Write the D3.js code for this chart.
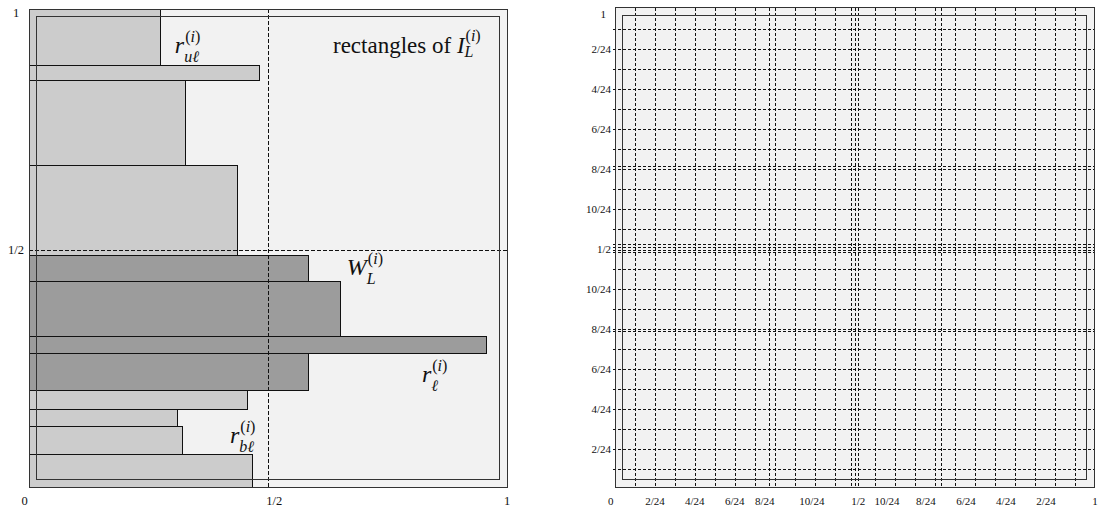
<!DOCTYPE html>
<html>
<head>
<meta charset="utf-8">
<script src="https://cdn.jsdelivr.net/npm/d3@7"></script>
<style>
  body { margin: 0; background: #fff; }
  text { font-family: "Liberation Serif", "Times New Roman", serif; fill: #111; }
</style>
</head>
<body>
<svg id="chart"></svg>
<script>
// ---- left panel: rectangles, listed top to bottom ----
let barTop    = [1.000, 0.881, 0.851, 0.672, 0.485, 0.429, 0.314, 0.280, 0.201, 0.163, 0.126, 0.067];
let barBottom = [0.881, 0.851, 0.672, 0.485, 0.429, 0.314, 0.280, 0.201, 0.163, 0.126, 0.067, 0.000];
let barRight  = [0.276, 0.483, 0.328, 0.437, 0.584, 0.651, 0.958, 0.584, 0.458, 0.310, 0.322, 0.467];
let barGroup  = ["light", "light", "light", "light", "dark", "dark", "dark", "dark", "light", "light", "light", "light"];

let leftXLabels = ["0", "1/2", "1"];
let leftXLabelPos = [-0.009, 0.513, 1.0];
let leftYLabels = ["1", "1/2"];
let leftYLabelPos = [0.992, 0.496];

let eps = 0.016;

// ---- right panel: dashed grid ----
let gridX = [1/24, 2/24, 3/24, 4/24, 5/24, 6/24, 7/24, 0.320, 8/24, 9/24, 10/24, 11/24,
             0.4925, 0.5, 0.5065,
             13/24, 14/24, 15/24, 0.679, 16/24, 17/24, 18/24, 19/24, 20/24, 21/24, 22/24, 23/24];
let gridY = [1/24, 2/24, 3/24, 4/24, 5/24, 6/24, 7/24, 0.328, 8/24, 9/24, 10/24, 11/24,
             0.4925, 0.4975, 0.503, 0.509,
             13/24, 14/24, 15/24, 16/24, 0.673, 17/24, 18/24, 19/24, 20/24, 21/24, 22/24, 23/24];

let rightXLabels = ["0", "2/24", "4/24", "6/24", "8/24", "10/24", "1/2", "10/24", "8/24", "6/24", "4/24", "2/24", "1"];
let rightXLabelPos = [-0.009, 2/24, 4/24, 6/24, 0.3125, 0.411, 0.508, 0.568, 0.649, 0.733, 0.816, 0.900, 1.002];
let rightYLabels = ["1", "2/24", "4/24", "6/24", "8/24", "10/24", "1/2", "10/24", "8/24", "6/24", "4/24", "2/24"];
let rightYLabelPos = [0.99, 22/24, 20/24, 18/24, 16/24, 14/24, 1/2, 10/24, 8/24, 6/24, 4/24, 2/24];

// annotations of the left panel
let annMain = ["r", "W", "r", "r"];
let annSub  = ["u\u2113", "L", "\u2113", "b\u2113"];
let annX    = [0.305, 0.665, 0.822, 0.4205];
let annY    = [0.908, 0.4435, 0.2197, 0.092];

let width = 1101;
let height = 511;

let svg = d3.select("#chart").attr("width", width).attr("height", height);

let xL = d3.scaleLinear().domain([0, 1]).range([29, 507]);
let yL = d3.scaleLinear().domain([0, 1]).range([487, 9]);
let xR = d3.scaleLinear().domain([0, 1]).range([615, 1094]);
let yR = d3.scaleLinear().domain([0, 1]).range([487, 7.5]);

let colors = { light: "#cccccc", dark: "#9c9c9c" };

let drawFrame = (g, x, y) => {
  g.append("rect")
    .attr("x", x(0)).attr("y", y(1))
    .attr("width", x(1) - x(0)).attr("height", y(0) - y(1))
    .attr("fill", "none").attr("stroke", "#333").attr("stroke-width", 1)
    .attr("shape-rendering", "crispEdges");
  g.append("rect")
    .attr("x", x(eps)).attr("y", y(1 - eps))
    .attr("width", x(1 - eps) - x(eps)).attr("height", y(eps) - y(1 - eps))
    .attr("fill", "none").attr("stroke", "#333").attr("stroke-width", 1)
    .attr("shape-rendering", "crispEdges");
};

// ---------- left panel ----------
let left = svg.append("g");

left.append("rect")
  .attr("x", xL(0)).attr("y", yL(1))
  .attr("width", xL(1) - xL(0)).attr("height", yL(0) - yL(1))
  .attr("fill", "#f2f2f2");

left.selectAll("rect.bar")
  .data(barTop)
  .enter()
  .append("rect")
  .attr("class", "bar")
  .attr("x", xL(0))
  .attr("y", (d) => yL(d))
  .attr("width", (d, i) => xL(barRight[i]) - xL(0))
  .attr("height", (d, i) => yL(barBottom[i]) - yL(d))
  .attr("fill", (d, i) => colors[barGroup[i]])
  .attr("stroke", "#111")
  .attr("stroke-width", 1)
  .attr("shape-rendering", "crispEdges");

let leftDash = left.append("g").attr("transform", "translate(0,2)")
  .attr("stroke", "#111").attr("stroke-width", 1).attr("stroke-dasharray", "3.5,2.5")
  .attr("shape-rendering", "crispEdges");
leftDash.append("line")
  .attr("x1", xL(0.5)).attr("x2", xL(0.5)).attr("y1", yL(1) - 2).attr("y2", yL(0) - 2);
leftDash.append("line")
  .attr("x1", xL(0)).attr("x2", xL(1)).attr("y1", yL(0.5)).attr("y2", yL(0.5));

drawFrame(left, xL, yL);

left.selectAll("text.xlab")
  .data(leftXLabels)
  .enter()
  .append("text")
  .attr("class", "xlab")
  .attr("x", (d, i) => xL(leftXLabelPos[i]))
  .attr("y", 505)
  .attr("text-anchor", "middle")
  .style("font-size", "12.5px")
  .text((d) => d);

left.selectAll("text.ylab")
  .data(leftYLabels)
  .enter()
  .append("text")
  .attr("class", "ylab")
  .attr("x", 16)
  .attr("y", (d, i) => yL(leftYLabelPos[i]))
  .attr("dy", "0.35em")
  .attr("text-anchor", "middle")
  .style("font-size", "12.5px")
  .text((d) => d);

// math annotations: main letter with stacked superscript (i) and subscript
let mathLabel = (g, x, y, main, sub, size) => {
  let t = g.append("text").attr("x", x).attr("y", y)
    .style("font-style", "italic").style("font-size", size + "px").text(main);
  let w = t.node().getComputedTextLength();
  let sup = g.append("text").attr("x", x + w + 1).attr("y", y - 11).style("font-size", "16px");
  sup.append("tspan").text("(");
  sup.append("tspan").style("font-style", "italic").text("i");
  sup.append("tspan").text(")");
  g.append("text").attr("x", x + w).attr("y", y + 9)
    .style("font-style", "italic").style("font-size", "16px").text(sub);
};

annMain.forEach((m, i) => {
  mathLabel(left, xL(annX[i]), yL(annY[i]), m, annSub[i], 24);
});

// title "rectangles of I_L^(i)"
let title = left.append("text").attr("x", xL(0.636)).attr("y", yL(0.908)).style("font-size", "23px");
title.append("tspan").text("rectangles of ");
title.append("tspan").style("font-style", "italic").text("I");
let tw = title.node().getComputedTextLength();
let tsup = left.append("text").attr("x", xL(0.636) + tw + 1).attr("y", yL(0.908) - 12).style("font-size", "16px");
tsup.append("tspan").text("(");
tsup.append("tspan").style("font-style", "italic").text("i");
tsup.append("tspan").text(")");
left.append("text").attr("x", xL(0.636) + tw).attr("y", yL(0.908) + 4)
  .style("font-style", "italic").style("font-size", "16px").text("L");

// ---------- right panel ----------
let right = svg.append("g");

right.append("rect")
  .attr("x", xR(0)).attr("y", yR(1))
  .attr("width", xR(1) - xR(0)).attr("height", yR(0) - yR(1))
  .attr("fill", "#f2f2f2");

let grid = right.append("g").attr("transform", "translate(1,2)")
  .attr("stroke", "#111").attr("stroke-width", 1).attr("stroke-dasharray", "3,2")
  .attr("shape-rendering", "crispEdges");

grid.selectAll("line.v")
  .data(gridX)
  .enter()
  .append("line")
  .attr("class", "v")
  .attr("x1", (d) => xR(d)).attr("x2", (d) => xR(d))
  .attr("y1", yR(1) - 2).attr("y2", yR(0) - 2);

grid.selectAll("line.h")
  .data(gridY)
  .enter()
  .append("line")
  .attr("class", "h")
  .attr("x1", xR(0) - 3).attr("x2", xR(1) - 1)
  .attr("y1", (d) => yR(d)).attr("y2", (d) => yR(d));

drawFrame(right, xR, yR);

right.selectAll("text.xlab")
  .data(rightXLabels)
  .enter()
  .append("text")
  .attr("class", "xlab")
  .attr("x", (d, i) => xR(rightXLabelPos[i]))
  .attr("y", 505)
  .attr("text-anchor", "middle")
  .style("font-size", "11px")
  .text((d) => d);

right.selectAll("text.ylab")
  .data(rightYLabels)
  .enter()
  .append("text")
  .attr("class", "ylab")
  .attr("x", (d, i) => (i === 0 ? 606 : 611))
  .attr("y", (d, i) => yR(rightYLabelPos[i]) + 2)
  .attr("dy", "0.35em")
  .attr("text-anchor", "end")
  .style("font-size", "11px")
  .text((d) => d);
</script>
</body>
</html>
